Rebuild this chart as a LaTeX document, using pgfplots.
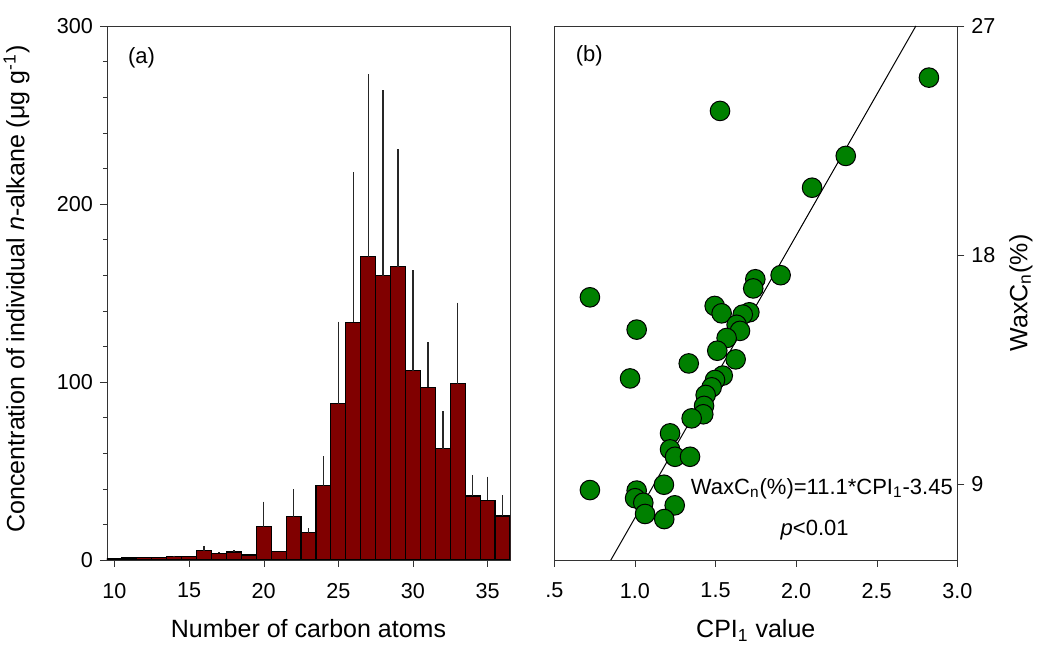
\documentclass[border=0pt]{standalone}
\usepackage{fontspec}
\setmainfont{Liberation Sans}
\usepackage{pgfplots}
\pgfplotsset{compat=1.18}
\definecolor{barred}{RGB}{128,0,0}
\definecolor{dotgreen}{RGB}{0,128,0}

\begin{document}
\begin{tikzpicture}
\pgfplotsset{
  every axis/.append style={
    scale only axis, width=201.5pt, height=267pt,
    tick align=outside, major tick length=3.5pt, minor tick length=2pt,
    /pgf/number format/assume math mode=true,
    tick label style={font=\fontsize{10.8}{13}\selectfont},
    xticklabel style={yshift=-4.5pt},
    label style={font=\fontsize{12.5}{15}\selectfont},
    xlabel style={at={(rel axis cs:0.5,0)}, anchor=base, yshift=-39pt},
    axis line style={black!80},
    tick style={black!80},
  }
}
% (a) n-alkane distribution
\begin{axis}[name=a, at={(0,0)}, anchor=south west,
  xmin=9.5, xmax=36.5, ymin=0, ymax=300,
  xtick={10,15,20,25,30,35}, ytick={0,100,200,300}, minor y tick num=4,
  xtick pos=bottom, ytick pos=left,
  xlabel={Number of carbon atoms},
  ylabel={Concentration of individual \textit{n}-alkane (μg g\textsuperscript{-1})},
  ylabel style={at={(rel axis cs:-0.2052,0.5075)}, anchor=base},
]
\addplot[ybar, bar width=1, fill=barred, draw=black, line width=0.6pt,
  error bars/.cd, y dir=plus, y explicit, error mark=none,
  error bar style={black!85, line width=0.7pt}]
coordinates {
 (10,0.7) +- (0,0)
 (11,1.1) +- (0,0)
 (12,1.5) +- (0,0)
 (13,1.5) +- (0,0)
 (14,2.0) +- (0,0.5)
 (15,2.0) +- (0,0)
 (16,5.2) +- (0,2.8)
 (17,3.7) +- (0,0.6)
 (18,4.5) +- (0,0.9)
 (19,2.8) +- (0,0)
 (20,18.7) +- (0,14.1)
 (21,4.7) +- (0,0)
 (22,24.3) +- (0,15.4)
 (23,15.4) +- (0,2.4)
 (24,41.8) +- (0,16.4)
 (25,87.8) +- (0,46.1)
 (26,133.5) +- (0,84.3)
 (27,170.4) +- (0,102.6)
 (28,159.7) +- (0,104.3)
 (29,164.8) +- (0,65.9)
 (30,106.4) +- (0,56.3)
 (31,97.0) +- (0,25.3)
 (32,62.5) +- (0,21.2)
 (33,99.1) +- (0,45.5)
 (34,36.0) +- (0,11.8)
 (35,33.5) +- (0,13.3)
 (36,24.7) +- (0,11.8)
};
\node[anchor=west, font=\fontsize{11}{13}\selectfont] at (rel axis cs:0.035,0.94) {(a)};
\end{axis}

% (b) WaxCn vs CPI1
\begin{axis}[name=b, at={(223.65pt,0)}, anchor=south west,
  xmin=0.5, xmax=3, ymin=6, ymax=27,
  xtick={0.5,1,1.5,2,2.5,3}, xticklabels={.5,1.0,1.5,2.0,2.5,3.0},
  ytick={9,18,27}, xtick pos=bottom, ytick pos=right, yticklabel pos=right,
  xlabel={CPI\textsubscript{1} value},
  ylabel={WaxC\textsubscript{n}(\%)}, ylabel near ticks,
  ylabel style={font=\fontsize{12.5}{15}\selectfont},
]
\addplot[only marks, mark=*, mark size=4.9pt,
  mark options={fill=dotgreen, draw=black, line width=0.5pt}]
coordinates {
 (2.824,24.97) (1.528,23.66) (2.308,21.89) (2.099,20.64) (1.904,17.20)
 (1.747,17.04) (1.734,16.68) (0.721,16.33) (1.495,15.99) (1.538,15.70)
 (1.710,15.74) (1.669,15.65) (1.631,15.25) (1.652,15.01) (1.011,15.06)
 (1.569,14.73) (1.511,14.23) (1.625,13.89) (1.334,13.73) (0.970,13.14)
 (1.545,13.25) (1.497,13.08) (1.476,12.79) (1.439,12.49) (1.429,12.06)
 (1.424,11.73) (1.352,11.57) (1.218,10.98) (1.218,10.35) (1.249,10.06)
 (1.342,10.06) (0.721,8.75) (1.011,8.73) (1.001,8.43) (1.052,8.25)
 (1.063,7.81) (1.180,8.96) (1.247,8.15) (1.182,7.61)
};
\addplot[black, line width=0.5pt] coordinates {(0.851,6) (2.743,27)};
\node[anchor=west, font=\fontsize{11}{13}\selectfont] at (rel axis cs:0.036,0.945) {(b)};
\node[font=\fontsize{11}{13}\selectfont] at (rel axis cs:0.664,0.133) {WaxC\textsubscript{n}(\%)=11.1*CPI\textsubscript{1}-3.45};
\node[font=\fontsize{11}{13}\selectfont] at (rel axis cs:0.646,0.056) {\textit{p}<0.01};
\end{axis}

\pgfresetboundingbox
\path (-53.5pt,-43pt) rectangle (466pt,280pt);
\end{tikzpicture}
\end{document}
